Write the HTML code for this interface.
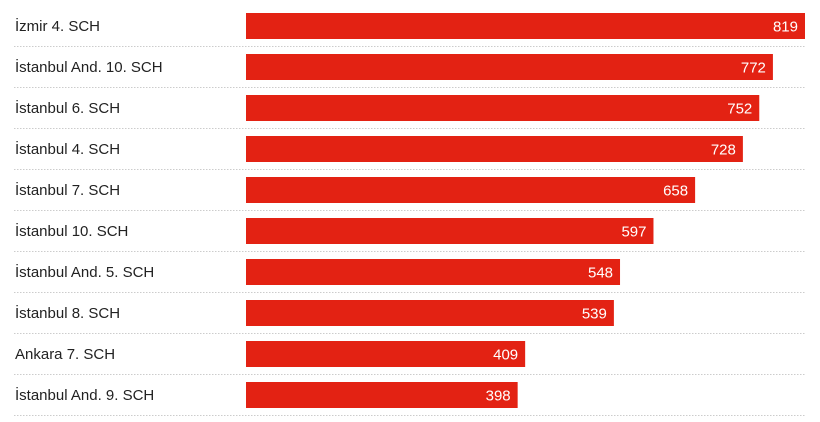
<!DOCTYPE html>
<html><head><meta charset="utf-8"><style>
body{margin:0;background:#fff;width:820px;height:417px;overflow:hidden;font-family:"Liberation Sans",sans-serif}
</style></head><body>
<svg id="c" width="820" height="417"></svg>
<script>
const categories=["İzmir 4. SCH","İstanbul And. 10. SCH","İstanbul 6. SCH","İstanbul 4. SCH","İstanbul 7. SCH","İstanbul 10. SCH","İstanbul And. 5. SCH","İstanbul 8. SCH","Ankara 7. SCH","İstanbul And. 9. SCH"];
const values=[819,772,752,728,658,597,548,539,409,398];
const svg=document.getElementById('c');
const NS='http://www.w3.org/2000/svg';
const x0=246,x1=805,maxV=819;
const xs=v=>x0+(v/maxV)*(x1-x0);
const ys=i=>13+i*41;
function mk(t,a){const e=document.createElementNS(NS,t);for(const k in a)e.setAttribute(k,a[k]);svg.appendChild(e);return e;}
categories.forEach((c,i)=>{
  const y=ys(i);
  const l=mk('text',{x:15,y:y+18,'font-size':15,fill:'#222'});l.textContent=c;
  
  
  const b=mk('rect',{x:x0,y:y,width:xs(values[i])-x0,height:26,fill:'#e32213'});
  
  
  const v=mk('text',{x:xs(values[i])-7,y:y+18.5,'font-size':15,fill:'#fff','text-anchor':'end'});v.textContent=values[i];
  
  
  const d=mk('line',{x1:14,x2:805,y1:y+33.5,y2:y+33.5,stroke:'#ccc','stroke-width':1,'stroke-dasharray':'1.5,1.5'});
  
  
});
</script>
</body></html>
